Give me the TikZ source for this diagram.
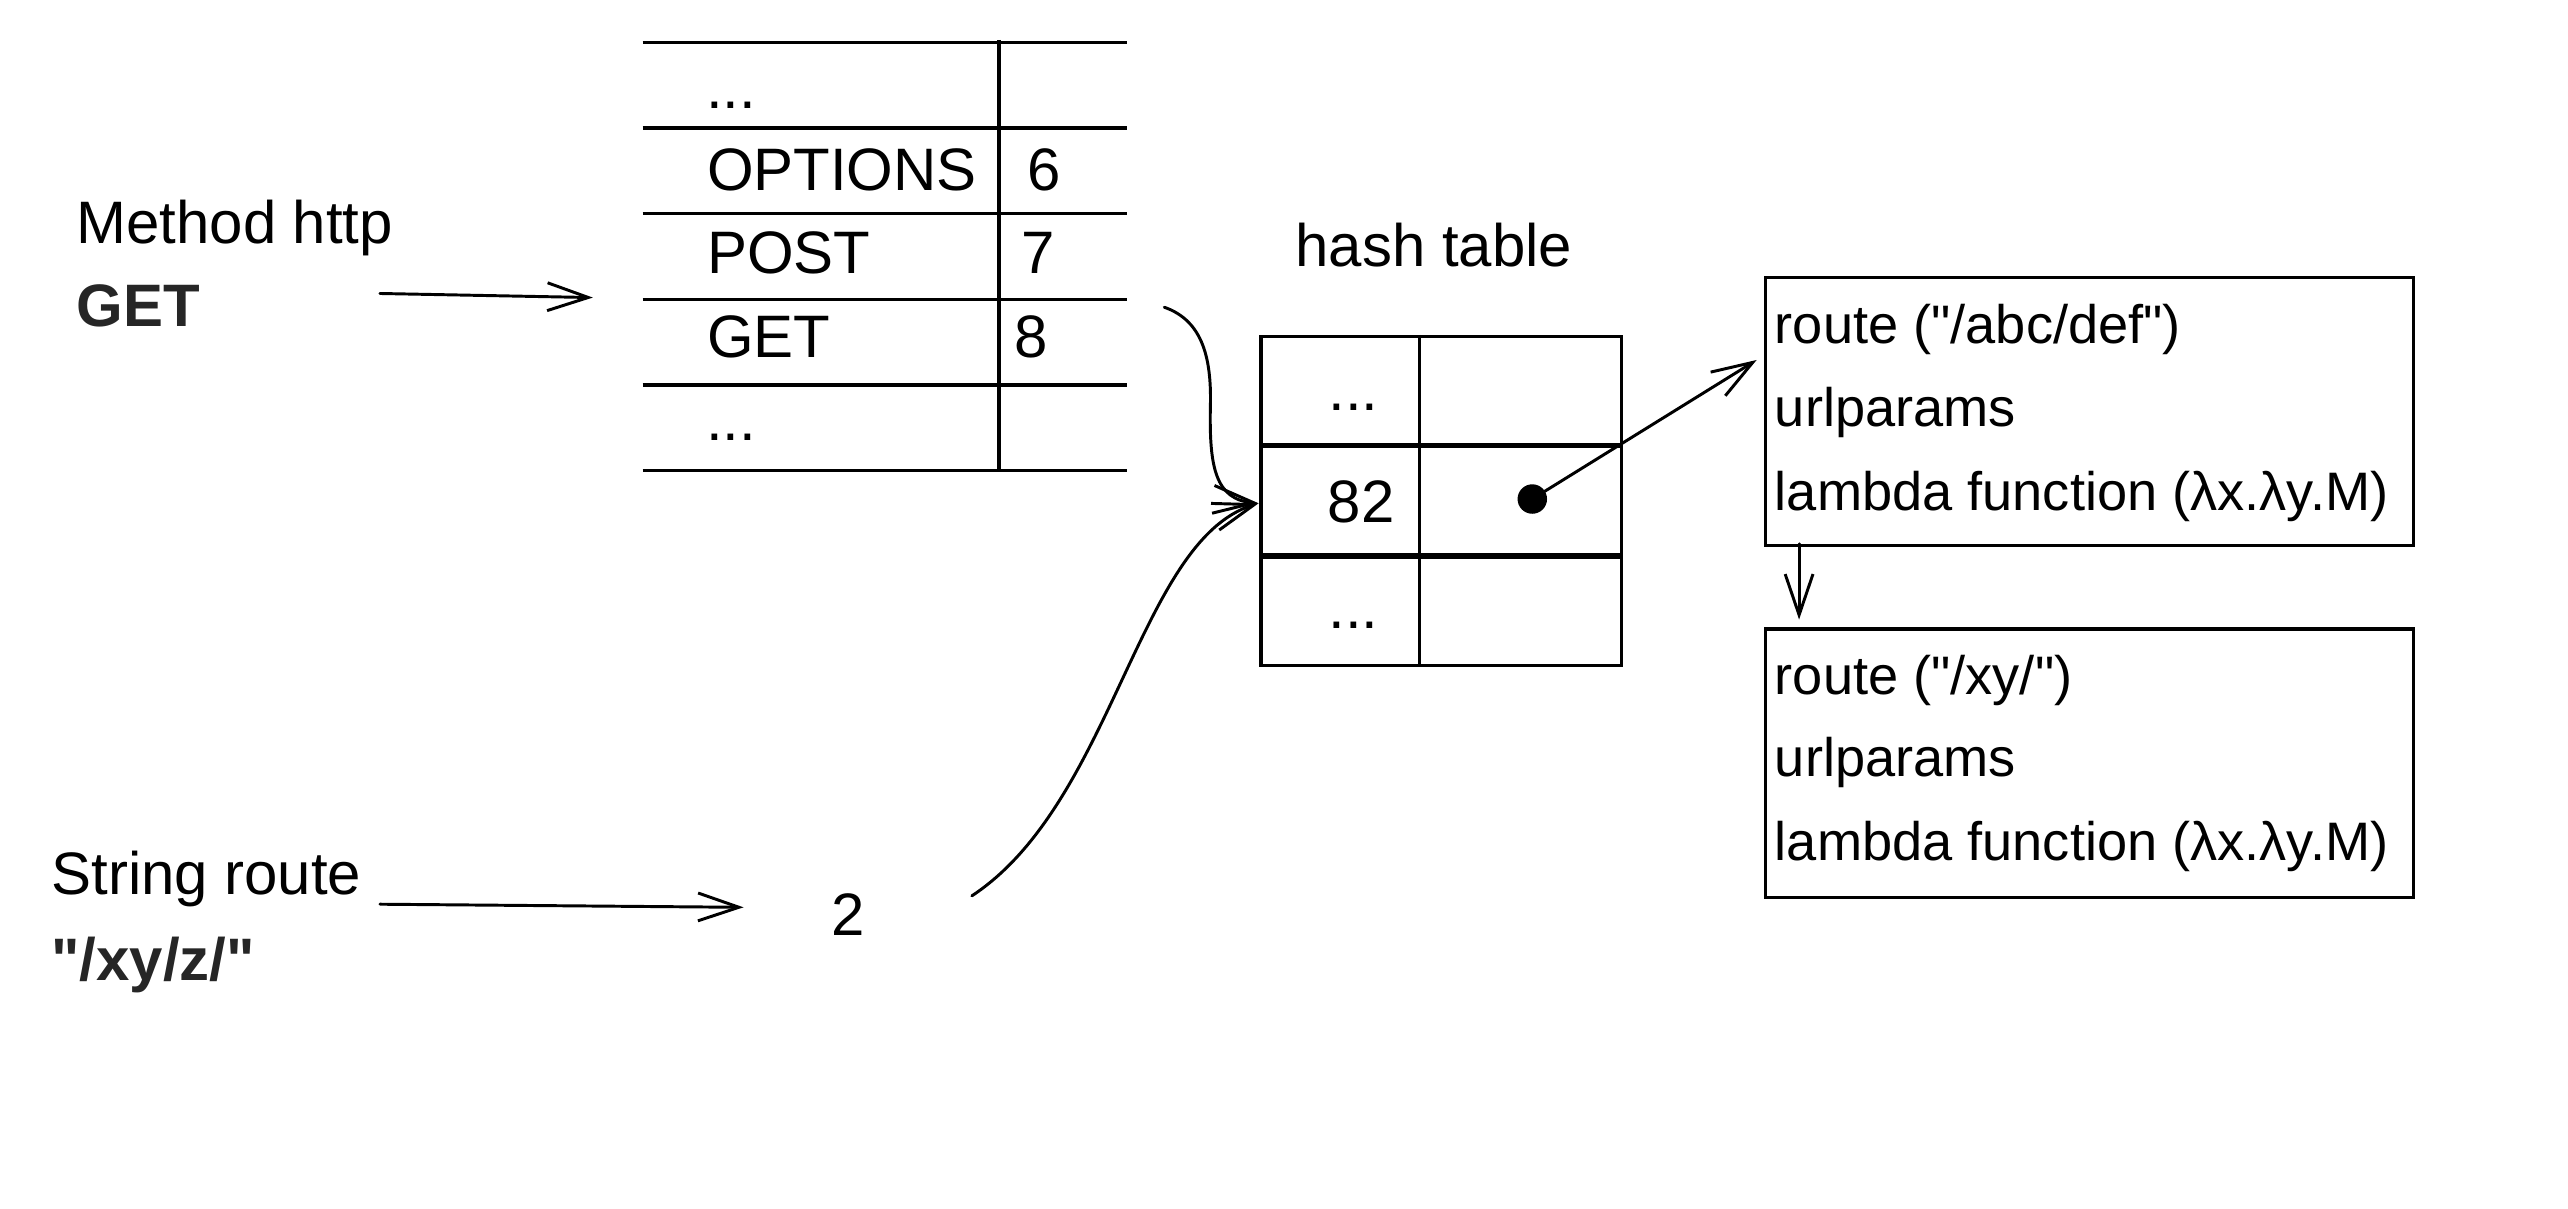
\documentclass[tikz,border=0pt]{standalone}
\usepackage{fontspec}
\setmainfont{Liberation Sans}
\usetikzlibrary{arrows.meta}
\begin{document}
\begin{tikzpicture}[x=1pt,y=-1pt,
 txt/.style={anchor=base west,inner sep=0pt,font=\fontsize{36.6}{40}\selectfont},
 btxt/.style={anchor=base west,inner sep=0pt,font=\fontsize{33.1}{38}\selectfont},
 boldtxt/.style={anchor=base west,inner sep=0pt,font=\fontsize{36.6}{40}\selectfont\bfseries,text=black!85},
 rule/.style={line width=2.2pt},
 frame/.style={draw,line width=2pt,inner sep=0pt,anchor=north west},
 conn/.style={line width=1.8pt,line cap=round,-{Straight Barb[length=25pt,width=17pt,line width=1.8pt]}}]
\useasboundingbox (0,0) rectangle (1568,738);

% ---- method table ----
\foreach \y in {25.9,78,130.4,182.9,234.9,287.2}
  \draw[rule] (392.4,\y) -- (688,\y);
\draw[rule] (610,24.3) -- (610,287.2);
\node[txt] (m0) at (431,66) {...};
\node[txt] (opt) at (431.5,116.6) {OPTIONS};
\node[txt] (n6) at (627,116.6) {6};
\node[txt] (post) at (431.5,167) {POST};
\node[txt] (n7) at (623.5,167) {7};
\node[txt] (get) at (431.5,218) {GET};
\node[txt] (n8) at (619,218) {8};
\node[txt] (m1) at (431,269) {...};

% ---- left labels ----
\node[txt] (meth) at (46.5,148.8) {Method http};
\node[boldtxt] (getb) at (46.5,199.5) {GET};
\node[txt] (sroute) at (31.2,546.3) {String route};
\node[boldtxt] (sval) at (31.2,598.4) {\textquotedbl/xy/z/\textquotedbl};
\node[txt] (two) at (507.5,571.5) {2};

% ---- hash table ----
\node[txt] (htitle) at (790.8,162.8) {hash table};
\node[frame,minimum width=220pt,minimum height=201pt] (ht) at (769,204.4) {};
\draw[line width=2pt] (866.7,204.4) -- (866.7,405.5);
\draw[line width=3.6pt] (769,272) -- (989,272);
\draw[line width=3.6pt] (769,339.5) -- (989,339.5);
\node[txt] (h0) at (811,250.8) {...};
\node[txt] (h82) at (810.5,319.1) {82};
\node[txt] (h2) at (811,384) {...};
\node[circle,fill=black,inner sep=0pt,minimum size=18pt] (dot) at (935.6,304.7) {};

% ---- route boxes ----
\node[frame,minimum width=396pt,minimum height=163.5pt] (box1) at (1076.8,168.5) {};
\node[btxt] (r1) at (1083.5,209.9) {route (\textquotedbl/abc/def\textquotedbl)};
\node[btxt] (u1) at (1083.5,260.3) {urlparams};
\node[btxt] (l1) at (1083.5,311.6) {lambda function (λx.λy.M)};
\node[frame,minimum width=396pt,minimum height=164pt] (box2) at (1076.8,383) {};
\node[btxt] (r2) at (1083.5,423.9) {route (\textquotedbl/xy/\textquotedbl)};
\node[btxt] (u2) at (1083.5,474.3) {urlparams};
\node[btxt] (l2) at (1083.5,525.3) {lambda function (λx.λy.M)};

% ---- connector end points ----
\coordinate (ma) at (232,179.2);
\coordinate (mb) at (362,181.7);
\coordinate (sa) at (232,552.1);
\coordinate (sb) at (454,554);
\coordinate (up0) at (710.9,187.6);
\coordinate (lo0) at (593.4,547);
\coordinate (hin) at (768.5,307.3);
\coordinate (b1in) at (1072.6,219.8);
\coordinate (d0) at (1098.5,332);
\coordinate (d1) at (1098.5,378.3);

% ---- connectors ----
\draw[conn] (ma) -- (mb);
\draw[conn] (sa) -- (sb);
\draw[conn] (up0) .. controls (735,196) and (740,220) .. (739,250)
   .. controls (738.5,285) and (742,305) .. (hin);
\draw[conn] (lo0) .. controls (680,490) and (695,330) .. (hin);
\draw[conn] (dot.center) -- (b1in);
\draw[conn] (d0) -- (d1);
\end{tikzpicture}
\end{document}
